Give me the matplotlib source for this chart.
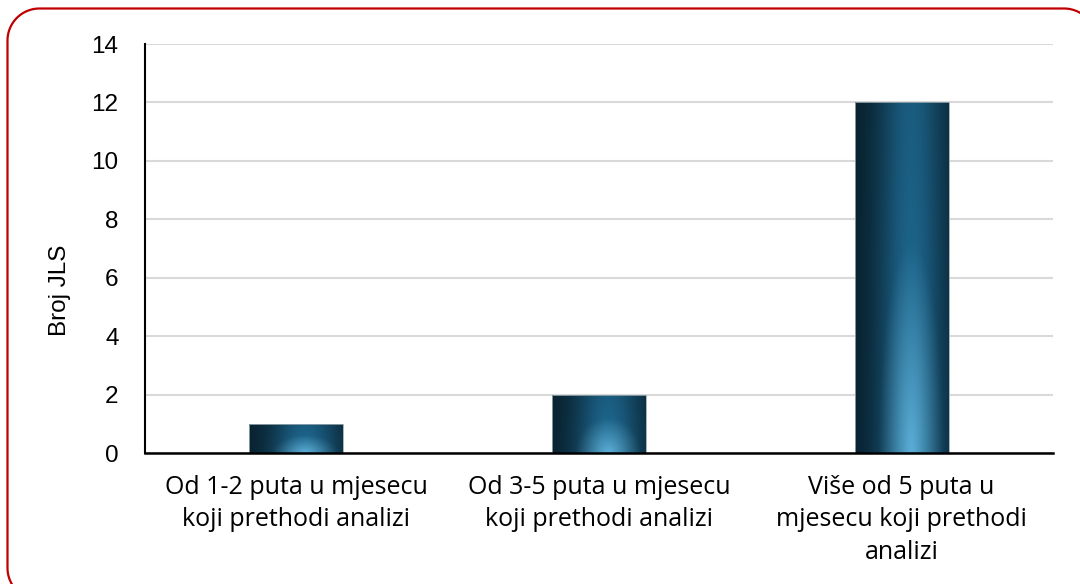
import numpy as np
import matplotlib
matplotlib.use("Agg")
import matplotlib.pyplot as plt

categories = ["Od 1-2 puta u mjesecu\nkoji prethodi analizi",
              "Od 3-5 puta u mjesecu\nkoji prethodi analizi",
              "Više od 5 puta u\nmjesecu koji prethodi\nanalizi"]
values = [1, 2, 12]
y_ticks = [0, 2, 4, 6, 8, 10, 12, 14]
y_label = "Broj JLS"

fig = plt.figure(figsize=(10.8, 5.84), dpi=100)
ax = fig.add_axes([145/1080, 1-453/584, (1053-145)/1080, (453-44)/584])

x = np.arange(len(categories))
bars = ax.bar(x, values, width=0.31, facecolor="none", edgecolor="none", zorder=3)

# gradient texture
nu, nv = 200, 200
u = np.linspace(0, 1, nu)[None, :]
v = np.linspace(0, 1, nv)[:, None]  # 0 = bottom
dark = np.array([0.03, 0.12, 0.17])
mid = np.array([0.12, 0.42, 0.58])
light = np.array([0.36, 0.68, 0.84])
hp = np.exp(-((u - 0.6) / 0.36) ** 2) * (0.8 + 0.2 * (1 - v))
r = np.sqrt(((u - 0.6) / 0.35) ** 2 + (v / 0.6) ** 2)
rp = np.clip(1 - r, 0, 1)
img = dark[None, None, :] + (mid - dark)[None, None, :] * hp[..., None] \
      + (light - mid)[None, None, :] * rp[..., None]
img = np.clip(img, 0, 1)

for b in bars:
    x0, y0 = b.get_x(), b.get_y()
    w, h = b.get_width(), b.get_height()
    im = ax.imshow(img, extent=[x0, x0 + w, y0, y0 + h], origin="lower",
                   aspect="auto", zorder=3, interpolation="bilinear")
    im.set_clip_path(b)
    ax.add_patch(plt.Rectangle((x0, y0), w, h, facecolor="none",
                               edgecolor="#9aa8b0", linewidth=0.6, zorder=4))

ax.set_xlim(-0.5, len(categories) - 0.5)
ax.set_ylim(0, 14)
ax.set_yticks(y_ticks)
ax.set_yticklabels([str(t) for t in y_ticks], fontsize=17.5, family="Liberation Sans")
ax.set_xticks(x)
ax.set_xticklabels(categories, fontsize=18, family="Open Sans", linespacing=1.38)
ax.tick_params(axis="x", length=0, pad=16)
ax.tick_params(axis="y", length=0, pad=19)
ax.grid(axis="y", color="#d9d9d9", linewidth=1.5, zorder=0)
ax.set_axisbelow(True)
for s in ["top", "right"]:
    ax.spines[s].set_visible(False)
ax.spines["left"].set_color("black")
ax.spines["left"].set_linewidth(1.5)
ax.spines["bottom"].set_color("black")
ax.spines["bottom"].set_linewidth(1.8)
ax.spines["left"].set_zorder(5)
ax.spines["bottom"].set_zorder(5)

fig.text(60/1080, 1-290/584, y_label, rotation=90, ha="center", va="center",
         fontsize=17.5, family="Liberation Sans")

# rounded border in pixel coordinates (decoration); right and bottom sides lie
# outside the canvas, only the top/left edges and corner starts are visible
ov = fig.add_axes([0, 0, 1, 1], zorder=-1)
ov.set_xlim(0, 1080)
ov.set_ylim(584, 0)
ov.set_autoscale_on(False)
ov.axis("off")
L, T, R, B, rad = 7.5, 8.5, 1096, 600, 32
t = np.linspace(0, np.pi / 2, 30)
tl = (L + rad - rad * np.cos(t), T + rad - rad * np.sin(t))
tr = (R - rad + rad * np.sin(t), T + rad - rad * np.cos(t))
bl = (L + rad - rad * np.sin(t[::-1]), B - rad + rad * np.cos(t[::-1]))
px = np.concatenate([bl[0][::-1], tl[0], tr[0]])
py = np.concatenate([bl[1][::-1], tl[1], tr[1]])
ov.plot(px, py, color="#c00000", linewidth=1.6, clip_on=True,
        solid_joinstyle="round")

fig.savefig("out.png", dpi=100)
